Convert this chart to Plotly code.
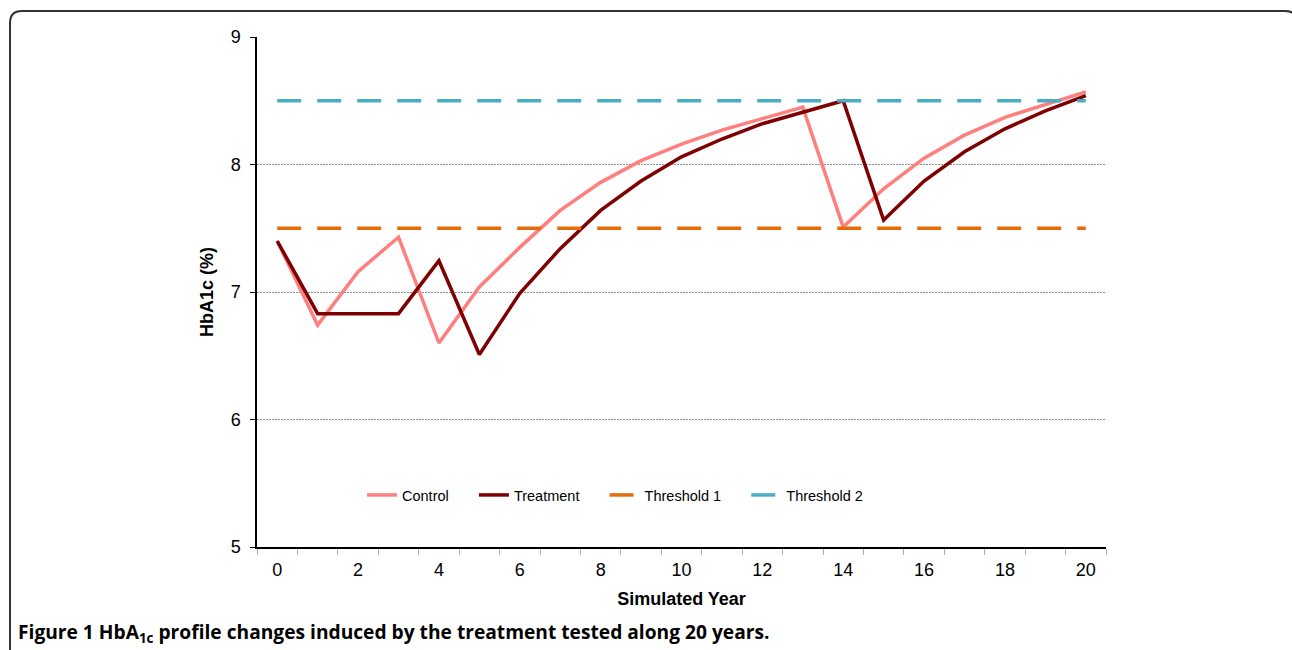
import plotly.graph_objects as go

years = list(range(21))
control = [7.40, 6.74, 7.16, 7.43, 6.60, 7.04, 7.35, 7.64, 7.86, 8.03, 8.16, 8.27, 8.36, 8.45,
           7.51, 7.81, 8.05, 8.23, 8.37, 8.47, 8.57]
treatment = [7.40, 6.83, 6.83, 6.83, 7.245, 6.51, 6.99, 7.34, 7.64, 7.87, 8.06, 8.20, 8.32, 8.41,
             8.50, 7.565, 7.87, 8.10, 8.28, 8.42, 8.54]
threshold1 = [7.5] * 21
threshold2 = [8.5] * 21

x_labels = list(range(0, 21, 2))
y_ticks = [5, 6, 7, 8, 9]

W, H = 1292, 650
L, R, T, B = 257, 1106, 37, 547

def px(x):
    return (x - L) / (R - L)

def py(y):
    return (B - y) / (B - T)

NB = "\u00a0" * 5

fig = go.Figure()
fig.add_trace(go.Scatter(x=years, y=control, mode="lines", name="Control" + NB,
                         line=dict(color="#FF7F7F", width=3.5)))
fig.add_trace(go.Scatter(x=years, y=treatment, mode="lines", name="Treatment" + NB,
                         line=dict(color="#7F0000", width=3.5)))
fig.add_trace(go.Scatter(x=years, y=threshold1, mode="lines", name="Threshold 1" + NB,
                         line=dict(color="#E46C0A", width=3.5, dash="24px,16px")))
fig.add_trace(go.Scatter(x=years, y=threshold2, mode="lines", name="Threshold 2",
                         line=dict(color="#4BACC6", width=3.5, dash="24px,16px")))

fig.update_layout(
    width=W, height=H,
    margin=dict(l=L, r=W - R, t=T, b=H - B, autoexpand=False),
    paper_bgcolor="white", plot_bgcolor="white",
    font=dict(family="Liberation Sans, Arial, sans-serif", size=18, color="black"),
    showlegend=True,
    legend=dict(orientation="h", x=px(362), xanchor="left", y=py(495), yanchor="middle",
                font=dict(size=14.5), bgcolor="rgba(0,0,0,0)", itemwidth=30),
    xaxis=dict(range=[-0.5, 20.5], tickmode="array", tickvals=x_labels,
               ticktext=[str(v) for v in x_labels], ticks="", showgrid=False,
               showline=True, linecolor="black", linewidth=1.5, zeroline=False,
               minor=dict(tickmode="array", tickvals=[v - 0.5 for v in range(22)],
                          ticks="outside", ticklen=6, tickcolor="#AAAAAA", showgrid=False),
               title=dict(text="<b>Simulated Year</b>", font=dict(size=18), standoff=13),
               ticklabelstandoff=6),
    yaxis=dict(range=[5, 9], tickmode="array", tickvals=y_ticks, ticks="outside",
               ticklen=5, tickcolor="black", showgrid=True, gridcolor="#8C8C8C",
               griddash="2px,1px", gridwidth=1, showline=True, linecolor="black", linewidth=1.5,
               zeroline=False,
               title=dict(text="<b>HbA1c (%)</b>", font=dict(size=18), standoff=12),
               ticklabelstandoff=6),
)

# Rounded frame around figure (right side runs off the page)
fig.add_shape(type="path", xref="paper", yref="paper",
              path=f"M {px(10)},{py(650)} L {px(10)},{py(23)} Q {px(10)},{py(11)} {px(22)},{py(11)} "
                   f"L {px(1285)},{py(11)} Q {px(1297)},{py(11)} {px(1297)},{py(23)} L {px(1297)},{py(650)}",
              line=dict(color="#333333", width=2))

fig.add_annotation(xref="paper", yref="paper", x=px(16), y=py(632), xanchor="left", yanchor="middle",
                   showarrow=False,
                   text="<b>Figure 1</b> <b>HbA<sub>1c</sub> profile changes induced by the treatment tested along 20 years.</b>",
                   font=dict(family="Open Sans, sans-serif", size=19.2, color="black"))

fig.write_html("out.html", config={"displayModeBar": False},
               post_script="document.body.style.margin='0px';")
